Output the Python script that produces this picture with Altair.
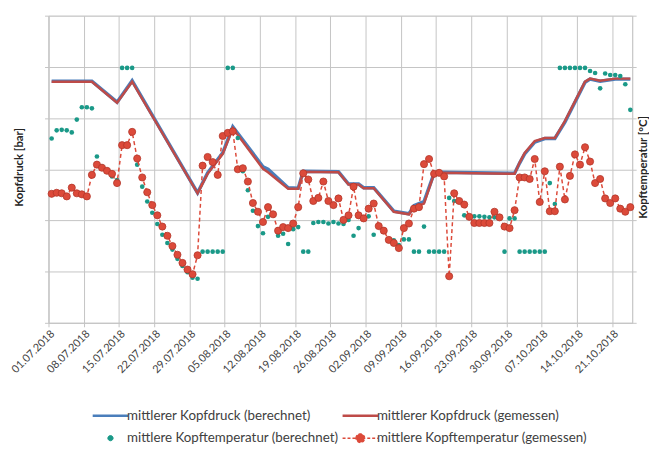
import altair as alt
import pandas as pd

# ---------------- data ----------------
S_P_CALC = "mittlerer Kopfdruck (berechnet)"
S_P_MEAS = "mittlerer Kopfdruck (gemessen)"
S_T_CALC = "mittlere Kopftemperatur (berechnet)"
S_T_MEAS = "mittlere Kopftemperatur (gemessen)"
series_names = [S_P_CALC, S_P_MEAS, S_T_CALC, S_T_MEAS]
series_colors = ["#4a7ebb", "#be4b48", "#1a9988", "#dc4a3a"]

pressure_dates = [
    "2018-07-01", "2018-07-09", "2018-07-14", "2018-07-17", "2018-07-30",
    "2018-08-01", "2018-08-04", "2018-08-06", "2018-08-12", "2018-08-13",
    "2018-08-17", "2018-08-19", "2018-08-20", "2018-08-27", "2018-08-29",
    "2018-08-31", "2018-09-01", "2018-09-03", "2018-09-07", "2018-09-10",
    "2018-09-11", "2018-09-13", "2018-09-15", "2018-09-16", "2018-10-01",
    "2018-10-02", "2018-10-03", "2018-10-05", "2018-10-07", "2018-10-09",
    "2018-10-11", "2018-10-15", "2018-10-16", "2018-10-18", "2018-10-21",
    "2018-10-24",
]
pressure_measured = [
    4.71, 4.71, 4.30, 4.71, 2.53, 2.91, 3.30, 3.80, 3.01, 2.94,
    2.62, 2.62, 2.95, 2.94, 2.70, 2.70, 2.63, 2.63, 2.17, 2.12,
    2.26, 2.33, 2.91, 2.93, 2.91, 3.13, 3.32, 3.55, 3.61, 3.61,
    3.94, 4.71, 4.77, 4.73, 4.77, 4.77,
]
pressure_calculated = [
    4.72, 4.72, 4.31, 4.73, 2.54, 2.93, 3.32, 3.83, 3.05, 3.00,
    2.64, 2.63, 2.96, 2.95, 2.71, 2.71, 2.64, 2.64, 2.18, 2.13,
    2.29, 2.37, 2.92, 2.94, 2.92, 3.12, 3.30, 3.53, 3.60, 3.60,
    3.92, 4.70, 4.76, 4.72, 4.76, 4.76,
]

temp_start = "2018-07-01"
temp_measured = [
    2.52, 2.54, 2.53, 2.47, 2.64, 2.53, 2.51, 2.47, 2.89, 3.09,
    3.03, 2.97, 2.91, 2.73, 3.47, 3.47, 3.73, 3.21, 2.84, 2.55,
    2.30, 2.10, 1.88, 1.70, 1.50, 1.33, 1.17, 1.04, 0.95, 1.32,
    3.07, 3.24, 3.14, 2.89, 3.65, 3.71, 3.74, 3.00, 3.02, 2.76,
    2.34, 2.17, 1.97, 2.26, 2.12, 1.80, 1.87, 1.85, 1.94, 2.26,
    2.92, 2.80, 2.38, 2.44, 2.76, 2.38, 2.30, 2.43, 2.01, 2.10,
    2.66, 2.10, 2.04, 2.23, 2.33, 1.89, 1.80, 1.62, 1.56, 1.46,
    1.85, 1.94, 2.23, 2.26, 3.10, 3.20, 2.91, 2.93, 2.86, 0.91,
    2.53, 2.38, 2.31, 2.07, 1.95, 1.95, 1.95, 1.95, 2.17, 2.06,
    1.88, 1.85, 2.20, 2.84, 2.84, 2.81, 3.20, 2.36, 2.96, 2.18,
    2.18, 3.05, 2.41, 2.87, 3.29, 3.09, 3.43, 3.15, 2.73, 2.81,
    2.43, 2.34, 2.43, 2.23, 2.17, 2.26,
]
temp_calculated = [
    3.60, 3.76, 3.77, 3.76, 3.72, 3.97, 4.21, 4.21, 4.19, 3.25,
    3.05, 2.96, 2.86, 2.79, 4.98, 4.98, 4.98, 3.09, 2.66, 2.37,
    2.15, 1.93, 1.72, 1.56, 1.43, 1.25, 1.11, 0.99, 0.88, 0.86,
    1.39, 1.39, 1.39, 1.39, 1.39, 4.98, 4.98, 3.61, 2.96, 2.59,
    2.19, 1.89, 1.75, 2.07, 2.12, 1.70, 1.74, 1.54, 1.83, 1.87,
    1.39, 1.39, 1.95, 1.97, 1.97, 1.94, 1.97, 1.94, 1.93, 2.01,
    1.70, 1.85, 2.04, 2.08, 1.72, 1.89, 1.78, 1.63, 1.61, 1.52,
    1.63, 1.63, 1.39, 1.39, 1.88, 1.39, 1.39, 1.39, 1.39, 2.44,
    2.38, 2.36, 2.10, 2.08, 2.08, 2.08, 2.07, 2.06, 2.06, 2.06,
    1.39, 2.04, 2.04, 1.39, 1.39, 1.39, 1.39, 1.39, 1.39, 2.73,
    2.32, 4.98, 4.98, 4.98, 4.98, 4.98, 4.98, 4.92, 4.88, 4.58,
    4.87, 4.84, 4.84, 4.82, 4.66, 4.16,
]

tick_dates = pd.date_range("2018-07-01", "2018-10-21", freq="7D")
x_start = "2018-07-01"
x_end = "2018-10-25"

# ---------------- tables ----------------
offset = pd.Timedelta(hours=15)
p_dates = pd.to_datetime(pressure_dates) + offset
df_pc = pd.DataFrame({"date": p_dates, "value": pressure_calculated, "series": S_P_CALC})
df_pm = pd.DataFrame({"date": p_dates, "value": pressure_measured, "series": S_P_MEAS})
t_dates = pd.date_range(temp_start, periods=len(temp_measured), freq="D") + offset
df_tc = pd.DataFrame({"date": t_dates, "value": temp_calculated, "series": S_T_CALC})
df_tm = pd.DataFrame({"date": t_dates, "value": temp_measured, "series": S_T_MEAS})

FONT = "Lato"
GRID = "#c4c4c4"
TXT = "#404040"

def dt(ts):
    ts = pd.Timestamp(ts)
    return alt.DateTime(year=ts.year, month=ts.month, date=ts.day)

x_enc = alt.X(
    "date:T",
    scale=alt.Scale(domain=[dt(x_start), dt(x_end)]),
    axis=alt.Axis(
        values=[dt(t) for t in tick_dates], format="%d.%m.%Y", labelAngle=315,
        labelFont=FONT, labelFontSize=11, labelColor=TXT, labelPadding=1,
        labelOverlap=False, tickSize=4, tickColor=GRID, domainColor=GRID,
        grid=True, gridColor=GRID, title=None,
    ),
)

def y_axis(title, orient, grid, title_x):
    return alt.Y(
        "value:Q",
        scale=alt.Scale(domain=[0, 6], nice=False, zero=False),
        axis=alt.Axis(
            values=[0, 1, 2, 3, 4, 5, 6], labels=False, tickSize=4, tickColor=GRID,
            domainColor=GRID, grid=grid, gridColor=GRID, orient=orient,
            title=title, titleFont=FONT, titleFontSize=11.5, titleFontWeight="bold",
            titleColor="#262626", titleAngle=270, titleX=title_x, titleY=153,
            titleAlign="center", titleBaseline="alphabetic",
        ),
    )

line_path = "M-1.5,0L1.5,0"
dot_path = "M-0.22,0A0.22,0.22,0,1,1,0.22,0A0.22,0.22,0,1,1,-0.22,0Z"
dash_dot_path = "M-1.5,0L1.5,0M-0.36,0A0.36,0.36,0,1,1,0.36,0A0.36,0.36,0,1,1,-0.36,0Z"

legend = alt.Legend(
    orient="none", legendX=56, legendY=398, columns=2, direction="horizontal",
    columnPadding=-2, rowPadding=8, title=None, labelFont=FONT, labelFontSize=13.5,
    labelColor=TXT, labelLimit=400, labelOffset=10, symbolSize=576,
    symbolType=alt.ExprRef(
        f"datum.value === '{S_T_CALC}' ? '{dot_path}' : "
        f"datum.value === '{S_T_MEAS}' ? '{dash_dot_path}' : '{line_path}'"),
    symbolStrokeWidth=alt.ExprRef(
        f"datum.value === '{S_T_CALC}' ? 1 : "
        f"datum.value === '{S_T_MEAS}' ? 1.5 : 2.5"),
    symbolDash=alt.ExprRef(f"datum.value === '{S_T_MEAS}' ? [3, 2] : [1, 0]"),
    symbolFillColor=alt.ExprRef("scale('color', datum.value)"),
    symbolOpacity=1,
)

color_scale = alt.Scale(domain=series_names, range=series_colors)

y_left = y_axis("Kopfdruck [bar]", "left", True, -26)
y_right = y_axis("Kopftemperatur [°C]", "right", False, 14)

p_calc = alt.Chart(df_pc).mark_line(strokeWidth=3.5).encode(
    x=x_enc, y=y_left, color=alt.Color("series:N", scale=color_scale, legend=legend))
p_meas = alt.Chart(df_pm).mark_line(strokeWidth=2.5).encode(
    x=x_enc, y=y_left, color=alt.Color("series:N", scale=color_scale, legend=None))

t_calc = alt.Chart(df_tc).mark_circle(size=22, opacity=1).encode(
    x=x_enc, y=y_right, color=alt.Color("series:N", scale=color_scale, legend=None))
t_meas_line = alt.Chart(df_tm).mark_line(strokeWidth=1.5, strokeDash=[4, 3]).encode(
    x=x_enc, y=y_right, color=alt.Color("series:N", scale=color_scale, legend=None))
t_meas_pts = alt.Chart(df_tm).mark_circle(
    size=52, opacity=1, stroke="#b3362a", strokeWidth=0.8).encode(
    x=x_enc, y=y_right, color=alt.Color("series:N", scale=color_scale, legend=None))

pressure = alt.layer(p_calc, p_meas)
temperature = alt.layer(t_calc, t_meas_line, t_meas_pts)

chart = alt.layer(pressure, temperature).resolve_scale(y="independent").properties(
    width=591, height=311,
    autosize=alt.AutoSizeParams(type="none"),
    padding={"left": 41, "top": 5, "right": 17, "bottom": 126},
).configure_view(stroke="transparent").configure(background="white")

chart.save("out.html", embed_options={"renderer": "svg", "actions": False})
